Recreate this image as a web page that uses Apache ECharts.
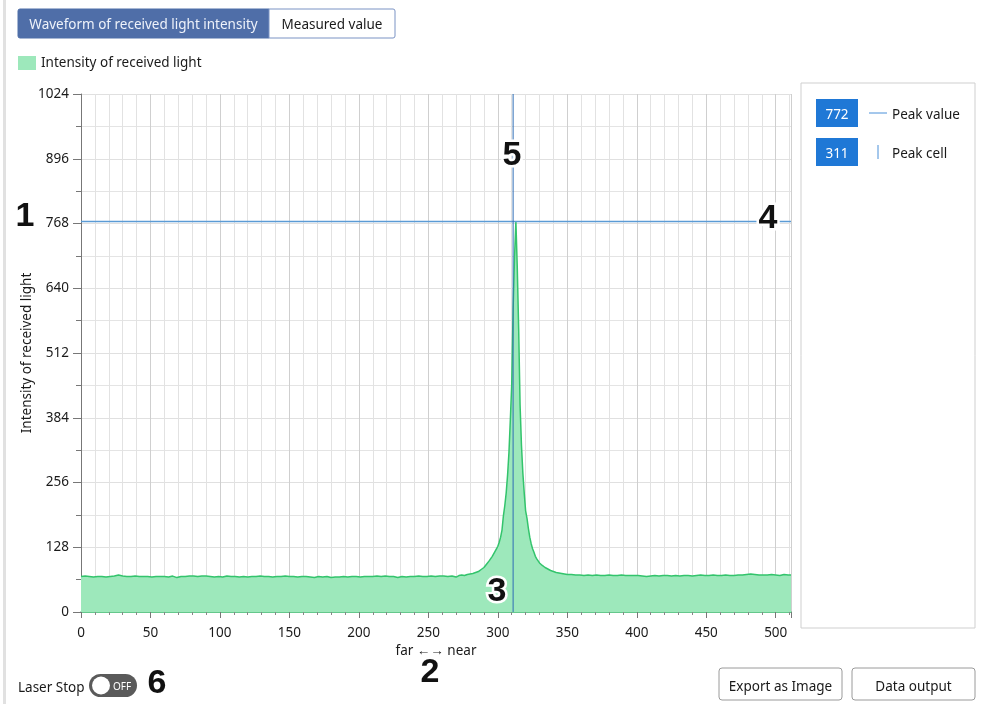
<!DOCTYPE html>
<html><head><meta charset="utf-8">
<script src="https://cdn.jsdelivr.net/npm/echarts@6/dist/echarts.min.js"></script>
<style>html,body{margin:0;padding:0;background:#fff}#c{width:984px;height:704px}</style>
</head><body><div id="c"></div>
<script>
const cells = [0,3,6,9,12,15,18,21,24,27,30,33,36,39,42,45,48,51,54,57,60,63,66,69,72,75,78,81,84,87,90,93,96,99,102,105,108,111,114,117,120,123,126,129,132,135,138,141,144,147,150,153,156,159,162,165,168,171,174,177,180,183,186,189,192,195,198,201,204,207,210,213,216,219,222,225,228,231,234,237,240,243,246,249,252,255,258,261,264,267,270,272,274,276,278,280,282,284,286,288,290,291,292,293,294,295,296,297,298,299,300,301,302,303,304,305,306,307,308,309,310,311,312,313,314,315,316,317,318,319,320,321,322,323,324,325,326,327,328,330,332,334,336,338,340,342,344,346,348,350,353,356,359,362,365,368,371,374,377,380,383,386,389,392,395,398,401,404,407,408,410,413,416,419,422,425,428,431,434,437,440,443,446,449,452,455,458,461,464,467,470,473,476,479,482,485,488,491,494,497,500,503,506,509,511];
const intensity = [70,71,70,69,70,70,69,70,71,73,71,70,70,71,70,70,70,69,70,70,70,69,71,68,70,70,71,71,70,71,71,70,69,70,69,71,70,70,69,70,69,70,70,71,70,70,69,70,70,71,70,70,69,70,70,69,68,70,69,70,68,69,69,70,69,70,70,69,70,70,70,71,70,71,70,70,68,70,69,70,70,71,70,70,71,70,71,71,70,71,69,72,73,72,74,75,76,78,80,84,88,91,95,98,102,106,110,115,120,125,130,138,148,162,190,210,235,270,315,380,450,600,700,772,680,560,410,330,275,235,200,185,165,148,135,125,118,110,105,97,92,88,85,82,80,78,77,76,75,74,74,73,73,72,73,72,73,72,72,73,72,72,73,72,72,72,72,71,70,68,71,72,71,72,72,71,72,71,72,72,71,72,73,72,72,73,72,72,73,72,72,73,73,74,75,74,73,73,73,74,73,72,74,73,73];
const yTicks = [0,128,256,384,512,640,768,896,1024];
const xTicks = [0,50,100,150,200,250,300,350,400,450,500];
const peakValue = 772;
const peakCell = 311;
const seriesName = 'Intensity of received light';

const FONT = '"Noto Sans", "Open Sans", sans-serif';
const FS = 13.5;
const chart = echarts.init(document.getElementById('c'), null, {renderer:'canvas'});
const data = cells.map((c,i)=>[c,intensity[i]]);

function txt(s, x, y, opts){
  opts = opts || {};
  return {type:'text', x:x, y:y+2, z:opts.z||50, style:{text:s, font:opts.font||(FS+'px '+FONT), fill:opts.fill||'#1a1a1a',
    stroke:opts.stroke||null, lineWidth:opts.lineWidth||0,
    align:opts.align||'center', textAlign:opts.align||'center', verticalAlign:'middle', textVerticalAlign:'middle'}};
}
function bigNum(s, x, y, outline){
  return txt(s, x, y, {z:100, font:'bold 34px "Liberation Sans", Arial, sans-serif', fill:'#111', stroke: outline?'#fff':null, lineWidth: outline?5:0});
}

chart.setOption({
  animation:false,
  textStyle:{fontFamily:FONT},
  legend:{left:13, top:51, itemWidth:18, itemHeight:14, itemGap:10,
    textStyle:{fontSize:FS, color:'#1a1a1a', fontFamily:FONT},
    data:[{name:seriesName, icon:'rect', itemStyle:{color:'#9de8bb'}}]},
  grid:{left:81, top:94, width:710, height:518, containLabel:false},
  xAxis:{type:'value', min:0, max:511, interval:50,
    name:'far ←→ near', nameLocation:'middle', nameGap:32, nameMoveOverlap:false,
    nameTextStyle:{fontSize:FS, color:'#1a1a1a', fontFamily:FONT},
    axisLine:{show:true, lineStyle:{color:'#3cc070', width:1.5}},
    axisTick:{show:true, length:6, lineStyle:{color:'#777'}},
    minorTick:{show:true, splitNumber:5, length:3, lineStyle:{color:'#888'}},
    splitLine:{show:true, lineStyle:{color:'#cfcfcf'}},
    minorSplitLine:{show:true, lineStyle:{color:'#e2e2e2'}},
    axisLabel:{fontSize:FS, color:'#1a1a1a', margin:14, fontFamily:FONT},
  },
  yAxis:{type:'value', min:0, max:1024, interval:128,
    name:seriesName, nameLocation:'middle', nameRotate:90, nameGap:47, nameMoveOverlap:false,
    nameTextStyle:{fontSize:FS, color:'#1a1a1a', fontFamily:FONT},
    axisLine:{show:true, lineStyle:{color:'#777'}},
    axisTick:{show:true, length:8, lineStyle:{color:'#777'}},
    minorTick:{show:true, splitNumber:2, length:5, lineStyle:{color:'#777'}},
    splitLine:{show:true, lineStyle:{color:'#e0e0e0'}},
    minorSplitLine:{show:true, lineStyle:{color:'#e4e4e4'}},
    axisLabel:{fontSize:FS, color:'#1a1a1a', margin:12, fontFamily:FONT, formatter:(v)=>String(v)}
  },
  series:[{
    name:seriesName, type:'line', data:data, showSymbol:false, smooth:false, z:2,
    lineStyle:{color:'#33c46c', width:1.5},
    itemStyle:{color:'#9de8bb'},
    areaStyle:{color:'#9de8bb', opacity:1}
  },{
    name:'Peak value', type:'line', data:[[0,peakValue],[511,peakValue]], showSymbol:false, z:5, silent:true,
    lineStyle:{color:'#5b9bd5', width:1.3}
  },{
    name:'Peak cell', type:'line', data:[[peakCell,0],[peakCell,1024]], showSymbol:false, z:5, silent:true,
    lineStyle:{color:'#2f6db5', width:1}
  }],
  graphic:[
    {type:'rect', shape:{x:3, y:0, width:3, height:704}, style:{fill:'#e1e1e1'}},
    {type:'rect', shape:{x:18, y:9, width:251, height:29, r:[2,0,0,2]}, style:{fill:'#4f6ea8', stroke:'#4f6ea8'}},
    txt('Waveform of received light intensity', 143.5, 23.5, {fill:'#eef2fa'}),
    {type:'rect', shape:{x:269, y:9, width:126, height:29, r:[0,2,2,0]}, style:{fill:'#fff', stroke:'#7b93c4', lineWidth:1}},
    txt('Measured value', 332, 23.5),
    {type:'rect', shape:{x:801, y:83, width:174, height:545}, style:{fill:'#fff', stroke:'#cfcfcf', lineWidth:1}},
    {type:'rect', shape:{x:816, y:99, width:42, height:28}, style:{fill:'#1f78d6'}},
    txt(String(peakValue), 837, 113, {fill:'#fff'}),
    {type:'line', shape:{x1:869, y1:113, x2:887, y2:113}, style:{stroke:'#4a90d9', lineWidth:1}},
    txt('Peak value', 892, 113, {align:'left'}),
    {type:'rect', shape:{x:816, y:138, width:42, height:28}, style:{fill:'#1f78d6'}},
    txt(String(peakCell), 837, 152, {fill:'#fff'}),
    {type:'line', shape:{x1:878, y1:145, x2:878, y2:159}, style:{stroke:'#4a90d9', lineWidth:1}},
    txt('Peak cell', 892, 152, {align:'left'}),
    txt('Laser Stop', 18, 686, {align:'left'}),
    {type:'rect', shape:{x:89, y:674, width:48, height:23, r:11.5}, style:{fill:'#5a5a5a'}},
    {type:'circle', shape:{cx:101, cy:685.5, r:9}, style:{fill:'#fff'}},
    txt('OFF', 122, 685, {font:'10px '+FONT, fill:'#fff'}),
    {type:'rect', shape:{x:719, y:668, width:123, height:32, r:3}, style:{fill:'#fff', stroke:'#9a9a9a', lineWidth:1}},
    txt('Export as Image', 780.5, 685),
    {type:'rect', shape:{x:852, y:668, width:123, height:32, r:3}, style:{fill:'#fff', stroke:'#9a9a9a', lineWidth:1}},
    txt('Data output', 913.5, 685),
    bigNum('1', 25, 215, false),
    bigNum('2', 430, 671, false),
    bigNum('3', 497, 590, true),
    bigNum('4', 768, 217, true),
    bigNum('5', 512, 154, true),
    bigNum('6', 157, 682, false)
  ]
});
</script></body></html>
